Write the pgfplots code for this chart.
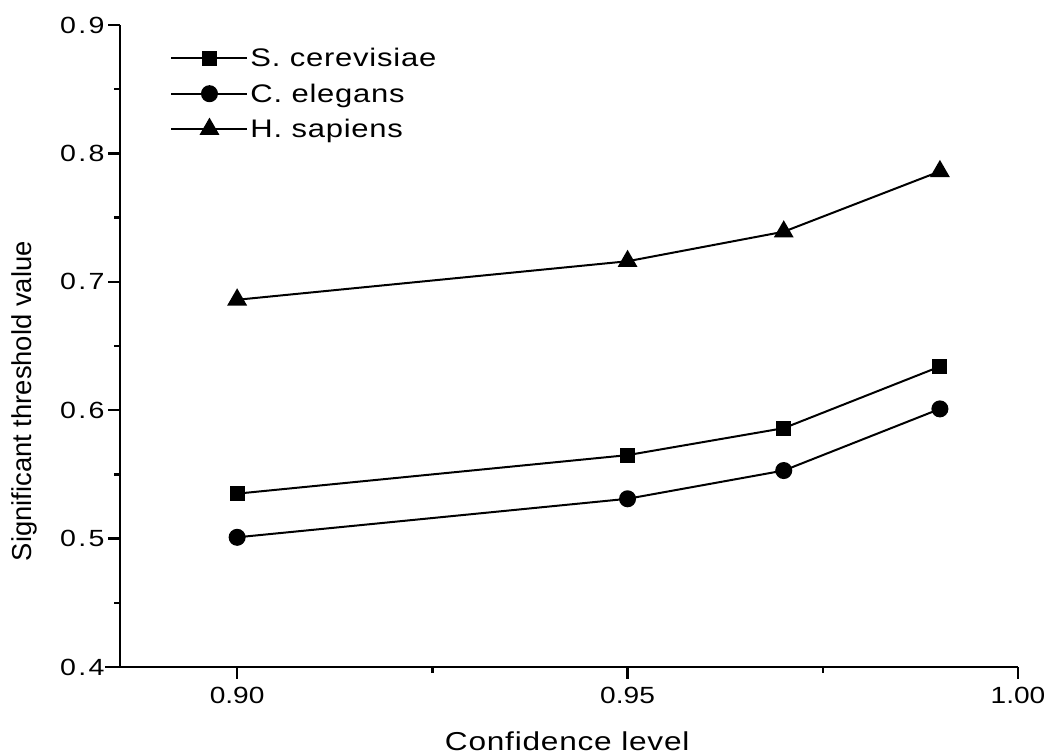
\documentclass[border=0pt]{standalone}
\usepackage{fontspec}
\setmainfont{Liberation Sans}
\newfontfamily\lsfont[FakeStretch=1.22, LetterSpace=3]{Liberation Sans}
\newfontfamily\tkfont[FakeStretch=1.2]{Liberation Sans}
\newfontfamily\ytkfont[FakeStretch=1.22, LetterSpace=10]{Liberation Sans}
\usepackage{pgfplots}
\pgfplotsset{compat=1.18}

\begin{document}
\begin{tikzpicture}
\begin{axis}[
    name=ax,
    scale only axis,
    width=898bp, height=642bp,
    xmin=0.885, xmax=1.00,
    ymin=0.4, ymax=0.9,
    axis lines*=left,
    axis line style={line width=2.3bp, -},
    x axis line style={shorten <=-15bp},
    tick align=outside,
    tick pos=left,
    major tick length=12bp,
    minor tick length=6bp,
    every tick/.style={line width=2.3bp, black},
    xtick={0.90,0.95,1.00},
    minor xtick={0.925,0.975},
    ytick={0.4,0.5,0.6,0.7,0.8,0.9},
    minor ytick={0.45,0.55,0.65,0.75,0.85},
    /pgf/number format/assume math mode=true,
    xticklabel style={font=\tkfont\fontsize{23.5}{28}\selectfont, yshift=-5bp,
        /pgf/number format/.cd, fixed, fixed zerofill, precision=2},
    yticklabel style={font=\ytkfont\fontsize{23.5}{28}\selectfont,
        /pgf/number format/.cd, fixed, fixed zerofill, precision=1},
    xlabel={Confidence level},
    ylabel={Significant threshold value},
    xlabel style={font=\lsfont\fontsize{26}{30}\selectfont, at={(axis description cs:0.498,-0.115)}, anchor=center},
    ylabel style={font=\fontsize{27.5}{32}\selectfont, at={(axis description cs:-0.107,0.414)}, anchor=center},
    legend style={at={(axis description cs:0.056,0.967)}, anchor=north west, draw=none, fill=none,
        inner sep=0pt, row sep=11.5bp, font=\lsfont\fontsize{25.5}{30}\selectfont, cells={anchor=west}},
    legend image code/.code={\draw[mark repeat=2, mark phase=2, #1] plot coordinates {(0bp,0bp) (38bp,0bp) (76bp,0bp)};},
]
\addplot[black, line width=2bp, mark=square*, mark size=6.5bp] coordinates {
(0.90,0.535) (0.95,0.565) (0.97,0.586) (0.99,0.634)};
\addlegendentry{S. cerevisiae}
\addplot[black, line width=2bp, mark=*, mark size=7.5bp] coordinates {
(0.90,0.501) (0.95,0.531) (0.97,0.553) (0.99,0.601)};
\addlegendentry{C. elegans}
\addplot[black, line width=2bp, mark=triangle*, mark size=9.5bp] coordinates {
(0.90,0.686) (0.95,0.716) (0.97,0.739) (0.99,0.786)};
\addlegendentry{H. sapiens}
\end{axis}
\pgfresetboundingbox
\path ([shift={(-120bp,-88bp)}]ax.south west) rectangle ([shift={(28bp,25bp)}]ax.north east);
\end{tikzpicture}
\end{document}
